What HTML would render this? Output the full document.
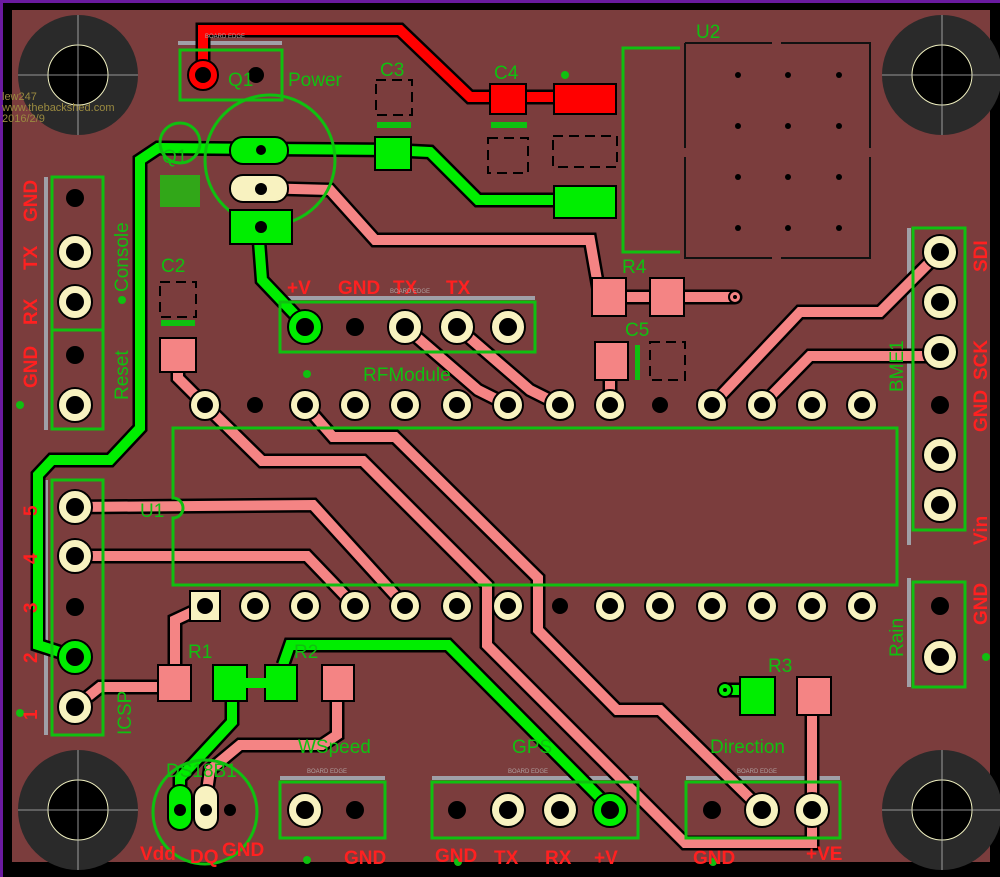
<!DOCTYPE html>
<html><head><meta charset="utf-8"><style>
html,body{margin:0;padding:0;background:#000;}
svg{display:block;font-family:"Liberation Sans",sans-serif;}
.g{fill:#10c010;font-size:19px;}
.r{fill:#ff2020;font-size:19px;font-weight:bold;}
.be{fill:#b0a0a0;font-size:6px;}
</style></head><body>
<svg width="1000" height="877" viewBox="0 0 1000 877">
<rect width="1000" height="877" fill="#000"/>
<rect x="0" y="0" width="1000" height="3" fill="#6a1aa0"/>
<rect x="0" y="0" width="3" height="877" fill="#6a1aa0"/>
<rect x="12" y="10" width="978" height="852" fill="#7b3d3d"/>

<!-- mounting holes -->
<g>
<circle cx="78" cy="75" r="60" fill="#2a2a2a"/><circle cx="78" cy="75" r="30" fill="#000" stroke="#f0f0c0" stroke-width="1"/>
<circle cx="942" cy="75" r="60" fill="#2a2a2a"/><circle cx="942" cy="75" r="30" fill="#000" stroke="#f0f0c0" stroke-width="1"/>
<circle cx="78" cy="810" r="60" fill="#2a2a2a"/><circle cx="78" cy="810" r="30" fill="#000" stroke="#f0f0c0" stroke-width="1"/>
<circle cx="942" cy="810" r="60" fill="#2a2a2a"/><circle cx="942" cy="810" r="30" fill="#000" stroke="#f0f0c0" stroke-width="1"/>
<g stroke="#bbb" stroke-width="0.8">
<line x1="18" y1="75" x2="138" y2="75"/><line x1="78" y1="15" x2="78" y2="135"/>
<line x1="882" y1="75" x2="1000" y2="75"/><line x1="942" y1="15" x2="942" y2="135"/>
<line x1="18" y1="810" x2="138" y2="810"/><line x1="78" y1="750" x2="78" y2="870"/>
<line x1="882" y1="810" x2="1000" y2="810"/><line x1="942" y1="750" x2="942" y2="870"/>
</g></g>

<text x="2" y="100" fill="#9a8a40" font-size="11">lew247</text>
<text x="2" y="111" fill="#9a8a40" font-size="11">www.thebackshed.com</text>
<text x="2" y="122" fill="#9a8a40" font-size="11">2016/2/9</text>

<!-- board edge lines -->
<g stroke="#a0a0a8" stroke-width="4">
<line x1="178" y1="43" x2="282" y2="43"/>
<line x1="280" y1="298" x2="535" y2="298"/>
<line x1="280" y1="778" x2="385" y2="778"/>
<line x1="432" y1="778" x2="638" y2="778"/>
<line x1="686" y1="778" x2="840" y2="778"/>
<line x1="46" y1="177" x2="46" y2="430"/>
<line x1="46" y1="480" x2="46" y2="735"/>
<line x1="909" y1="228" x2="909" y2="545"/>
<line x1="909" y1="578" x2="909" y2="687"/>
</g>

<!-- pink traces -->
<g fill="none" stroke-linejoin="miter" stroke-linecap="round">
<g stroke="#000" stroke-width="15">
<path d="M258,188 L330,190 L375,240 L590,240 L600,297 L735,297"/>
<path d="M712,405 L800,312 L880,312 L940,252"/>
<path d="M762,405 L810,356 L940,356"/>
<path d="M178,352 L178,378 L205,405"/>
<path d="M405,327 L478,390 L508,405"/>
<path d="M457,327 L530,390 L560,405"/>
<path d="M610,360 L610,405"/>
<path d="M205,405 L262,461 L363,461 L487,585 L487,645 L685,843 L812,843 L812,690"/>
<path d="M305,405 L333,437 L395,437 L538,578 L538,630 L617,710 L660,710 L762,810"/>
<path d="M75,507 L313,505 L405,606"/>
<path d="M75,556 L307,556 L355,606"/>
<path d="M75,707 L100,687 L170,687"/>
<path d="M175,680 L175,620 L205,606"/>
<path d="M337,690 L337,735 L322,745 L240,745 L210,770 L205,805"/>
</g>
<g stroke="#f48484" stroke-width="10">
<path d="M258,188 L330,190 L375,240 L590,240 L600,297 L735,297"/>
<path d="M712,405 L800,312 L880,312 L940,252"/>
<path d="M762,405 L810,356 L940,356"/>
<path d="M178,352 L178,378 L205,405"/>
<path d="M405,327 L478,390 L508,405"/>
<path d="M457,327 L530,390 L560,405"/>
<path d="M610,360 L610,405"/>
<path d="M205,405 L262,461 L363,461 L487,585 L487,645 L685,843 L812,843 L812,690"/>
<path d="M305,405 L333,437 L395,437 L538,578 L538,630 L617,710 L660,710 L762,810"/>
<path d="M75,507 L313,505 L405,606"/>
<path d="M75,556 L307,556 L355,606"/>
<path d="M75,707 L100,687 L170,687"/>
<path d="M175,680 L175,620 L205,606"/>
<path d="M337,690 L337,735 L322,745 L240,745 L210,770 L205,805"/>
</g>
</g>
<circle cx="735" cy="297" r="6" fill="#f48484" stroke="#000" stroke-width="2"/><circle cx="735" cy="297" r="2" fill="#000"/>

<!-- red trace -->
<path d="M203,75 L203,30 L400,30 L470,97 L560,97" fill="none" stroke="#000" stroke-width="15"/>
<path d="M203,75 L203,30 L400,30 L470,97 L560,97" fill="none" stroke="#ff0000" stroke-width="10"/>
<rect x="490" y="84" width="36" height="30" fill="#ff0000" stroke="#000" stroke-width="2"/>
<rect x="554" y="84" width="62" height="30" fill="#ff0000" stroke="#000" stroke-width="2"/>

<!-- green traces -->
<g fill="none" stroke-linejoin="miter">
<g stroke="#000" stroke-width="15">
<path d="M75,657 L38,645 L38,475 L52,460 L110,460 L140,428 L140,160 L158,148 L390,150 L430,152 L478,200 L580,200"/>
<path d="M258,228 L262,280 L300,320"/>
<path d="M283,665 L290,645 L448,645 L610,808"/>
<path d="M232,690 L232,722 L180,778 L180,810"/>
<path d="M725,690 L750,690"/>
</g>
<g stroke="#00ee00" stroke-width="10">
<path d="M75,657 L38,645 L38,475 L52,460 L110,460 L140,428 L140,160 L158,148 L390,150 L430,152 L478,200 L580,200"/>
<path d="M258,228 L262,280 L300,320"/>
<path d="M283,665 L290,645 L448,645 L610,808"/>
<path d="M232,690 L232,722 L180,778 L180,810"/>
<path d="M725,690 L750,690"/>
</g>
</g>
<circle cx="725" cy="690" r="7" fill="#00ee00" stroke="#000" stroke-width="2"/><circle cx="725" cy="690" r="2" fill="#000"/>

<!-- SMD pads -->
<g stroke="#000" stroke-width="2">
<rect x="375" y="137" width="36" height="33" fill="#00ee00"/>
<rect x="554" y="186" width="62" height="32" fill="#00ee00"/>
<rect x="592" y="278" width="34" height="38" fill="#f48484"/>
<rect x="650" y="278" width="34" height="38" fill="#f48484"/>
<rect x="595" y="342" width="33" height="38" fill="#f48484"/>
<rect x="160" y="338" width="36" height="34" fill="#f48484"/>
<rect x="158" y="665" width="33" height="36" fill="#f48484"/>
<rect x="213" y="665" width="34" height="36" fill="#00ee00"/>
<rect x="265" y="665" width="32" height="36" fill="#00ee00"/>
<rect x="322" y="665" width="32" height="36" fill="#f48484"/>
<rect x="740" y="677" width="35" height="38" fill="#00ee00"/>
<rect x="797" y="677" width="34" height="38" fill="#f48484"/>
</g>
<rect x="245" y="678" width="22" height="10" fill="#00ee00"/>

<!-- dashed outlines -->
<g fill="none" stroke="#000" stroke-width="2" stroke-dasharray="10,6">
<rect x="376" y="80" width="36" height="35"/>
<rect x="488" y="138" width="40" height="35"/>
<rect x="553" y="136" width="64" height="31"/>
<rect x="160" y="282" width="36" height="35"/>
<rect x="650" y="342" width="35" height="38"/>
</g>
<g fill="#10c010">
<rect x="377" y="122" width="34" height="6"/>
<rect x="491" y="122" width="36" height="6"/>
<rect x="161" y="320" width="34" height="6"/>
<rect x="635" y="345" width="5" height="35"/>
<rect x="600" y="283" width="25" height="3" opacity="0"/>
</g>

<!-- U2 -->
<g stroke="#111" stroke-width="2" fill="none">
<path d="M685,43 L772,43 M781,43 L870,43 L870,148 M870,157 L870,258 L781,258 M772,258 L685,258 L685,157 M685,148 L685,43"/>
</g>
<path d="M680,48 L623,48 L623,252 L680,252" fill="none" stroke="#10c010" stroke-width="3"/>
<g fill="#000">
<circle cx="738" cy="75" r="3"/><circle cx="788" cy="75" r="3"/><circle cx="839" cy="75" r="3"/>
<circle cx="738" cy="126" r="3"/><circle cx="788" cy="126" r="3"/><circle cx="839" cy="126" r="3"/>
<circle cx="738" cy="177" r="3"/><circle cx="788" cy="177" r="3"/><circle cx="839" cy="177" r="3"/>
<circle cx="738" cy="228" r="3"/><circle cx="788" cy="228" r="3"/><circle cx="839" cy="228" r="3"/>
</g>

<!-- U1 outline -->
<path d="M173,428 L897,428 L897,585 L173,585 L173,518 A10,10 0 0 0 173,498 Z" fill="none" stroke="#10c010" stroke-width="3"/>

<!-- header outlines -->
<g fill="none" stroke="#10c010" stroke-width="3">
<rect x="52" y="177" width="51" height="252"/><line x1="52" y1="330" x2="103" y2="330"/>
<rect x="52" y="480" width="51" height="255"/>
<rect x="913" y="228" width="52" height="302"/>
<rect x="913" y="582" width="52" height="105"/>
<rect x="280" y="302" width="255" height="50"/>
<rect x="280" y="782" width="105" height="56"/>
<rect x="432" y="782" width="206" height="56"/>
<rect x="686" y="782" width="154" height="56"/>
<rect x="180" y="50" width="102" height="50"/>
<circle cx="270" cy="160" r="65"/>
<circle cx="180" cy="143" r="20"/>
<circle cx="205" cy="812" r="52"/>
</g>

<!-- TO-92 / Q2 pads -->
<rect x="230" y="137" width="58" height="27" rx="13" fill="#00ee00" stroke="#000" stroke-width="2"/>
<rect x="230" y="175" width="58" height="27" rx="13" fill="#f8f2c0" stroke="#000" stroke-width="2"/>
<rect x="230" y="210" width="62" height="34" fill="#00ee00" stroke="#000" stroke-width="2"/>
<circle cx="261" cy="150" r="5" fill="#000"/><circle cx="261" cy="189" r="6" fill="#000"/><circle cx="261" cy="227" r="6" fill="#000"/>
<rect x="160" y="175" width="40" height="32" fill="#00ee00" opacity="0.6"/>

<!-- DS18B1 pads -->
<rect x="168" y="785" width="24" height="45" rx="12" fill="#00ee00" stroke="#000" stroke-width="2"/>
<rect x="194" y="785" width="24" height="45" rx="12" fill="#f8f2c0" stroke="#000" stroke-width="2"/>
<circle cx="180" cy="810" r="6" fill="#000"/><circle cx="206" cy="810" r="6" fill="#000"/><circle cx="230" cy="810" r="6" fill="#000"/>

<!-- Q1 pads -->
<circle cx="203" cy="75" r="15" fill="#ff0000" stroke="#000" stroke-width="2"/>
<circle cx="203" cy="75" r="8" fill="#000"/>
<circle cx="256" cy="75" r="8" fill="#000"/>

<!-- through-hole pads (cream) -->
<g fill="#f8f2c0" stroke="#000" stroke-width="2">
<circle cx="205" cy="405" r="15"/><circle cx="305" cy="405" r="15"/><circle cx="355" cy="405" r="15"/>
<circle cx="405" cy="405" r="15"/><circle cx="457" cy="405" r="15"/><circle cx="508" cy="405" r="15"/>
<circle cx="560" cy="405" r="15"/><circle cx="610" cy="405" r="15"/><circle cx="712" cy="405" r="15"/>
<circle cx="762" cy="405" r="15"/><circle cx="812" cy="405" r="15"/><circle cx="862" cy="405" r="15"/>
<circle cx="255" cy="606" r="15"/><circle cx="305" cy="606" r="15"/><circle cx="355" cy="606" r="15"/>
<circle cx="405" cy="606" r="15"/><circle cx="457" cy="606" r="15"/><circle cx="508" cy="606" r="15"/>
<circle cx="610" cy="606" r="15"/><circle cx="660" cy="606" r="15"/><circle cx="712" cy="606" r="15"/>
<circle cx="762" cy="606" r="15"/><circle cx="812" cy="606" r="15"/><circle cx="862" cy="606" r="15"/>
<circle cx="75" cy="252" r="17"/><circle cx="75" cy="302" r="17"/><circle cx="75" cy="405" r="17"/>
<circle cx="75" cy="507" r="17"/><circle cx="75" cy="556" r="17"/><circle cx="75" cy="707" r="17"/>
<circle cx="940" cy="252" r="17"/><circle cx="940" cy="302" r="17"/><circle cx="940" cy="352" r="17"/>
<circle cx="940" cy="455" r="17"/><circle cx="940" cy="505" r="17"/><circle cx="940" cy="657" r="17"/>
<circle cx="405" cy="327" r="17"/><circle cx="457" cy="327" r="17"/><circle cx="508" cy="327" r="17"/>
<circle cx="305" cy="810" r="17"/><circle cx="508" cy="810" r="17"/><circle cx="560" cy="810" r="17"/>
<circle cx="762" cy="810" r="17"/><circle cx="812" cy="810" r="17"/>
<rect x="190" y="591" width="30" height="30"/>
</g>
<g fill="#00ee00" stroke="#000" stroke-width="2">
<circle cx="75" cy="657" r="17"/><circle cx="305" cy="327" r="17"/><circle cx="610" cy="810" r="17"/>
</g>
<g fill="#000">
<circle cx="205" cy="405" r="8"/><circle cx="255" cy="405" r="8"/><circle cx="305" cy="405" r="8"/><circle cx="355" cy="405" r="8"/>
<circle cx="405" cy="405" r="8"/><circle cx="457" cy="405" r="8"/><circle cx="508" cy="405" r="8"/>
<circle cx="560" cy="405" r="8"/><circle cx="610" cy="405" r="8"/><circle cx="660" cy="405" r="8"/><circle cx="712" cy="405" r="8"/>
<circle cx="762" cy="405" r="8"/><circle cx="812" cy="405" r="8"/><circle cx="862" cy="405" r="8"/>
<circle cx="205" cy="606" r="8"/><circle cx="255" cy="606" r="8"/><circle cx="305" cy="606" r="8"/><circle cx="355" cy="606" r="8"/>
<circle cx="405" cy="606" r="8"/><circle cx="457" cy="606" r="8"/><circle cx="508" cy="606" r="8"/><circle cx="560" cy="606" r="8"/>
<circle cx="610" cy="606" r="8"/><circle cx="660" cy="606" r="8"/><circle cx="712" cy="606" r="8"/>
<circle cx="762" cy="606" r="8"/><circle cx="812" cy="606" r="8"/><circle cx="862" cy="606" r="8"/>
<circle cx="75" cy="198" r="9"/><circle cx="75" cy="252" r="9"/><circle cx="75" cy="302" r="9"/><circle cx="75" cy="355" r="9"/><circle cx="75" cy="405" r="9"/>
<circle cx="75" cy="507" r="9"/><circle cx="75" cy="556" r="9"/><circle cx="75" cy="607" r="9"/><circle cx="75" cy="657" r="9"/><circle cx="75" cy="707" r="9"/>
<circle cx="940" cy="252" r="9"/><circle cx="940" cy="302" r="9"/><circle cx="940" cy="352" r="9"/><circle cx="940" cy="405" r="9"/>
<circle cx="940" cy="455" r="9"/><circle cx="940" cy="505" r="9"/><circle cx="940" cy="606" r="9"/><circle cx="940" cy="657" r="9"/>
<circle cx="305" cy="327" r="9"/><circle cx="355" cy="327" r="9"/><circle cx="405" cy="327" r="9"/><circle cx="457" cy="327" r="9"/><circle cx="508" cy="327" r="9"/>
<circle cx="305" cy="810" r="9"/><circle cx="355" cy="810" r="9"/><circle cx="457" cy="810" r="9"/><circle cx="508" cy="810" r="9"/>
<circle cx="560" cy="810" r="9"/><circle cx="610" cy="810" r="9"/><circle cx="712" cy="810" r="9"/><circle cx="762" cy="810" r="9"/><circle cx="812" cy="810" r="9"/>
</g>

<!-- green dots -->
<g fill="#10c010">
<circle cx="20" cy="405" r="4"/><circle cx="20" cy="713" r="4"/><circle cx="307" cy="374" r="4"/>
<circle cx="307" cy="860" r="4"/><circle cx="458" cy="862" r="4"/><circle cx="565" cy="75" r="4"/>
<circle cx="986" cy="657" r="4"/><circle cx="713" cy="862" r="4"/><circle cx="122" cy="300" r="4"/>
</g>

<!-- green labels -->
<text class="g" x="696" y="38">U2</text>
<text class="g" x="494" y="79">C4</text>
<text class="g" x="380" y="76">C3</text>
<text class="g" x="228" y="86">Q1</text>
<text class="g" x="288" y="86">Power</text>
<text class="g" x="161" y="272">C2</text>
<text class="g" x="622" y="273">R4</text>
<text class="g" x="625" y="336">C5</text>
<text class="g" x="363" y="381">RFModule</text>
<text class="g" x="140" y="517">U1</text>
<text class="g" x="188" y="658">R1</text>
<text class="g" x="294" y="658">R2</text>
<text class="g" x="768" y="672">R3</text>
<text class="g" x="298" y="753">WSpeed</text>
<text class="g" x="512" y="753">GPS</text>
<text class="g" x="710" y="753">Direction</text>
<text class="g" x="166" y="777">DS18B1</text>
<text class="g" x="162" y="163" font-size="16">Q1</text>
<text class="g" transform="translate(128,292) rotate(-90)">Console</text>
<text class="g" transform="translate(128,400) rotate(-90)">Reset</text>
<text class="g" transform="translate(131,735) rotate(-90)">ICSP</text>
<text class="g" transform="translate(903,392) rotate(-90)">BME1</text>
<text class="g" transform="translate(903,657) rotate(-90)">Rain</text>

<!-- red labels -->
<text class="r" x="287" y="294">+V</text>
<text class="r" x="338" y="294">GND</text>
<text class="r" x="393" y="294">TX</text>
<text class="r" x="446" y="294">TX</text>
<text class="r" x="140" y="860">Vdd</text>
<text class="r" x="190" y="863">DQ</text>
<text class="r" x="222" y="856">GND</text>
<text class="r" x="344" y="864">GND</text>
<text class="r" x="435" y="862">GND</text>
<text class="r" x="494" y="864">TX</text>
<text class="r" x="545" y="864">RX</text>
<text class="r" x="594" y="864">+V</text>
<text class="r" x="693" y="864">GND</text>
<text class="r" x="806" y="860">+VE</text>
<text class="r" transform="translate(37,222) rotate(-90)">GND</text>
<text class="r" transform="translate(37,270) rotate(-90)">TX</text>
<text class="r" transform="translate(37,325) rotate(-90)">RX</text>
<text class="r" transform="translate(37,388) rotate(-90)">GND</text>
<text class="r" transform="translate(37,516) rotate(-90)">5</text>
<text class="r" transform="translate(37,564) rotate(-90)">4</text>
<text class="r" transform="translate(37,613) rotate(-90)">3</text>
<text class="r" transform="translate(37,663) rotate(-90)">2</text>
<text class="r" transform="translate(37,720) rotate(-90)">1</text>
<text class="r" transform="translate(987,272) rotate(-90)">SDI</text>
<text class="r" transform="translate(987,380) rotate(-90)">SCK</text>
<text class="r" transform="translate(987,432) rotate(-90)">GND</text>
<text class="r" transform="translate(987,545) rotate(-90)">Vin</text>
<text class="r" transform="translate(987,625) rotate(-90)">GND</text>

<!-- board edge labels -->
<text class="be" x="205" y="38">BOARD EDGE</text>
<text class="be" x="390" y="293">BOARD EDGE</text>
<text class="be" x="307" y="773">BOARD EDGE</text>
<text class="be" x="508" y="773">BOARD EDGE</text>
<text class="be" x="737" y="773">BOARD EDGE</text>
</svg>
</body></html>
